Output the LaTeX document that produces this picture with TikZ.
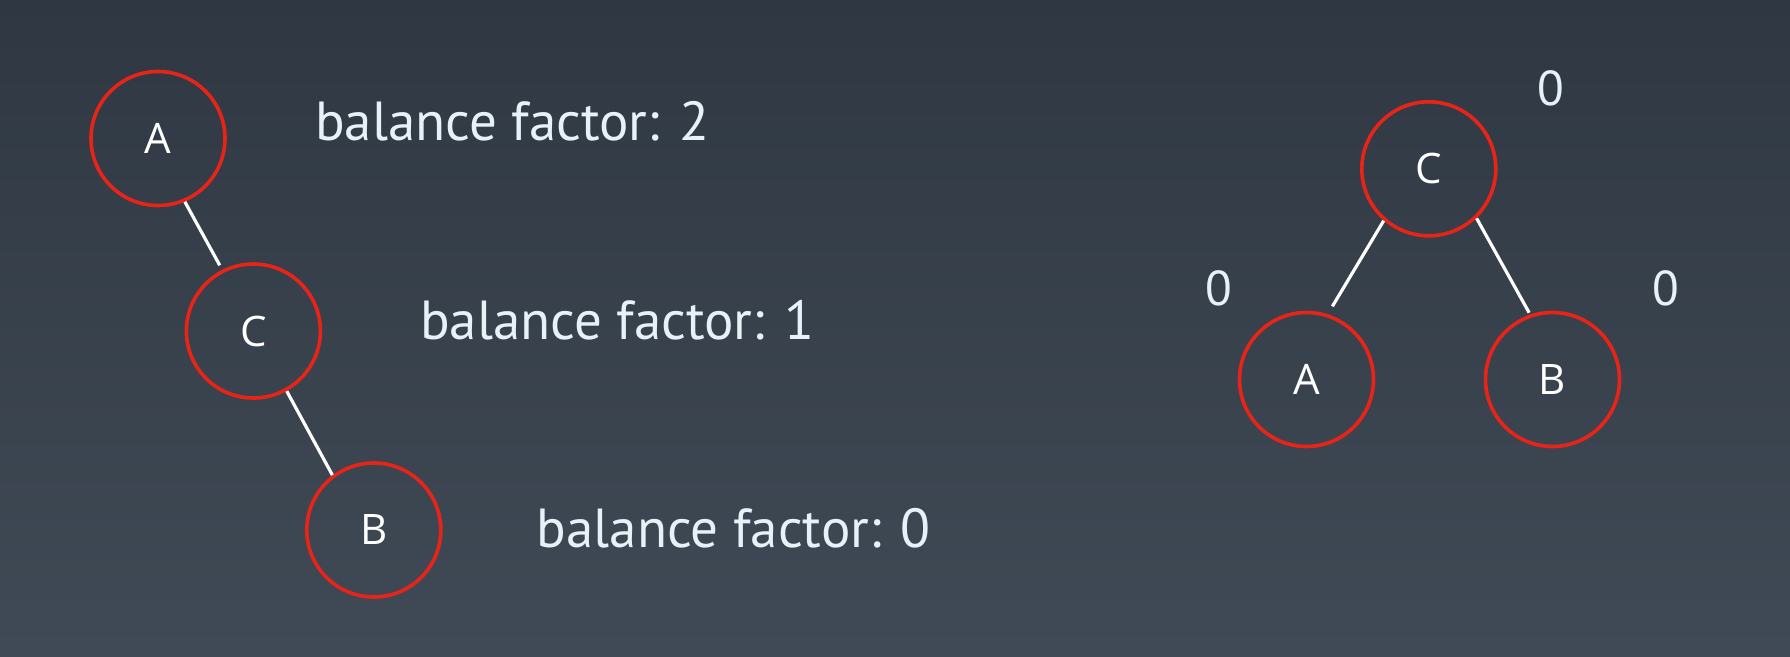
\documentclass[tikz,border=0pt]{standalone}
\usepackage{fontspec}
\setmainfont{PT Sans}
\newfontfamily\letterfont{Open Sans}

\begin{document}
\begin{tikzpicture}[x=1pt,y=-1pt,
  treenode/.style={circle,draw=bf_red,line width=3.6pt,minimum size=134pt,inner sep=0pt,
    text=white,font=\letterfont\fontsize{42}{50}\selectfont},
  bftext/.style={anchor=base west,inner sep=0pt,text=bf_text,font=\fontsize{55}{66}\selectfont},
  zerotext/.style={inner sep=0pt,text=bf_text,font=\fontsize{49}{58}\selectfont},
  edge/.style={draw=white,line width=3.2pt}]
% ------------------------------------------------ theme colors
\definecolor{bf_top}{RGB}{47,56,66}      %#2F3842
\definecolor{bf_bottom}{RGB}{64,74,86}   %#404A56
\definecolor{bf_red}{RGB}{232,36,24}     %#E82418
\definecolor{bf_text}{RGB}{230,242,247}  %#E6F2F7

% ------------------------------------------------ background
\shade[top color=bf_top,bottom color=bf_bottom] (0,0) rectangle (1790,656);
\useasboundingbox (0,0) rectangle (1790,656);

% ------------------------------------------------ unbalanced tree
\node[treenode] (a1) at (158,138.5) {A};
\node[treenode] (c1) at (253.4,331) {C};
\node[treenode] (b1) at (373.8,530) {B};

\draw[edge,shorten >=5pt] (a1.293) -- (c1.117);
\draw[edge] (c1.299) -- (b1.127);

\node[bftext] (bf1) at (315,140) {balance factor: 2};
\node[bftext] (bf2) at (420,339) {balance factor: 1};
\node[bftext] (bf3) at (536.5,547) {balance factor: 0};

% ------------------------------------------------ balanced tree
\node[treenode] (c2) at (1428.8,168.8) {C};
\node[treenode] (a2) at (1306.5,379.5) {A};
\node[treenode] (b2) at (1552.5,379.5) {B};

\draw[edge,shorten >=9pt] (c2.229) -- (a2.72);
\draw[edge,shorten >=2pt] (c2.314) -- (b2.109);

\node[zerotext] (z1) at (1551,88.5) {0};
\node[zerotext] (z2) at (1219,288.5) {0};
\node[zerotext] (z3) at (1666,288.5) {0};

\end{tikzpicture}
\end{document}
